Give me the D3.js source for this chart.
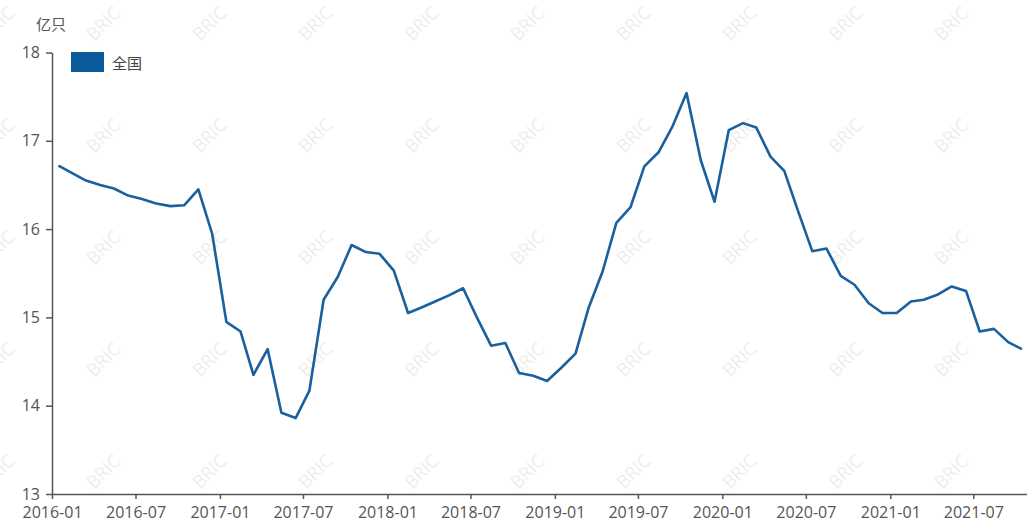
<!DOCTYPE html>
<html>
<head>
<meta charset="utf-8">
<script src="https://cdn.jsdelivr.net/npm/d3@7/dist/d3.min.js"></script>
<style>
  html, body { margin: 0; padding: 0; background: #fff; }
  svg { display: block; font-family: "Open Sans", "Noto Sans CJK SC", sans-serif; }
</style>
</head>
<body>
<svg id="chart" width="1027" height="520"></svg>
<script>
// Monthly stock, 2016-01 .. 2021-10 (亿只)
const months = d3.range(70).map(i => d3.timeFormat("%Y-%m")(new Date(2016, i, 1)));
const values = [
  16.72, 16.63, 16.55, 16.50, 16.46, 16.38, 16.34, 16.29, 16.26, 16.27, 16.45, 15.95,
  14.95, 14.84, 14.35, 14.64, 13.92, 13.86, 14.17, 15.20, 15.46, 15.82, 15.74, 15.72,
  15.53, 15.05, 15.11, 15.18, 15.25, 15.33, 15.00, 14.68, 14.71, 14.37, 14.34, 14.28,
  14.43, 14.59, 15.10, 15.52, 16.07, 16.25, 16.71, 16.87, 17.17, 17.54, 16.78, 16.31,
  17.12, 17.20, 17.15, 16.82, 16.66, 16.19, 15.75, 15.78, 15.47, 15.37, 15.16, 15.05,
  15.05, 15.18, 15.20, 15.26, 15.35, 15.30, 14.84, 14.87, 14.72, 14.64
];
const yTicks = [13, 14, 15, 16, 17, 18];
const seriesName = "全国";
const unitLabel = "亿只";
const watermark = "BRIC";

const W = 1027, H = 520;
const plotLeft = 52, plotBottom = 494, plotTop = 52.5;
const lineColor = "#1a609e";
const textColor = "#555";
const fontStack = "'Open Sans', 'Noto Sans CJK SC', sans-serif";

const svg = d3.select("#chart");

// tiled diagonal watermark
const wm = svg.append("g").attr("pointer-events", "none");
for (let gx = -3; gx < W + 60; gx += 106) {
  for (let gy = 23; gy < H + 60; gy += 112) {
    wm.append("text")
      .attr("transform", `translate(${gx},${gy}) rotate(-45)`)
      .attr("text-anchor", "middle")
      .attr("dominant-baseline", "central")
      .attr("font-size", 18)
      .attr("fill", "#eeeeee")
      .text(watermark);
  }
}

const parse = d3.timeParse("%Y-%m");
const data = months.map((m, i) => {
  const d = parse(m);
  return { date: new Date(d.getFullYear(), d.getMonth(), 15), value: values[i] };
});

const x = d3.scaleTime()
  .domain([new Date(2016, 0, 1), new Date(2021, 9, 26)])
  .range([plotLeft, W]);
const y = d3.scaleLinear().domain([13, 18]).range([plotBottom, plotTop]);

// x axis
const xAxis = d3.axisBottom(x)
  .ticks(d3.timeMonth.every(6))
  .tickFormat(d3.timeFormat("%Y-%m"))
  .tickSize(5)
  .tickSizeOuter(0);
const gX = svg.append("g").attr("transform", `translate(0,${plotBottom})`).call(xAxis)
  .attr("font-family", fontStack);
gX.select(".domain").attr("stroke", "#555").attr("stroke-width", 1.5);
gX.selectAll(".tick line").attr("stroke", "#555").attr("stroke-width", 1.5);
gX.selectAll(".tick text")
  .attr("fill", textColor).attr("font-size", 16).attr("dy", 0).attr("y", 24);

// y axis
const yAxis = d3.axisLeft(y).tickValues(yTicks).tickFormat(d3.format("d"))
  .tickSize(6).tickSizeOuter(0).tickPadding(6);
const gY = svg.append("g").attr("transform", `translate(${plotLeft},0)`).call(yAxis)
  .attr("font-family", fontStack);
gY.select(".domain").attr("stroke", "#555").attr("stroke-width", 1.5);
gY.selectAll(".tick line").attr("stroke", "#555").attr("stroke-width", 1.5);
gY.selectAll(".tick text").attr("fill", textColor).attr("font-size", 16);

// unit label
svg.append("text")
  .attr("x", 51).attr("y", 23)
  .attr("text-anchor", "middle").attr("dominant-baseline", "central")
  .attr("font-family", "'Noto Sans CJK SC', sans-serif")
  .attr("font-size", 15).attr("fill", textColor)
  .text(unitLabel);

// series line
svg.append("path")
  .datum(data)
  .attr("fill", "none")
  .attr("stroke", lineColor)
  .attr("stroke-width", 2.6)
  .attr("stroke-linejoin", "round")
  .attr("d", d3.line().x(d => x(d.date)).y(d => y(d.value)));

// legend
const lg = svg.append("g").attr("transform", "translate(71,52)");
lg.append("rect").attr("width", 33).attr("height", 20).attr("fill", "#0b5a9c");
lg.append("text")
  .attr("x", 41).attr("y", 10)
  .attr("dominant-baseline", "central")
  .attr("font-family", "'Noto Sans CJK SC', sans-serif")
  .attr("font-size", 15).attr("fill", "#444")
  .text(seriesName);
</script>
</body>
</html>
